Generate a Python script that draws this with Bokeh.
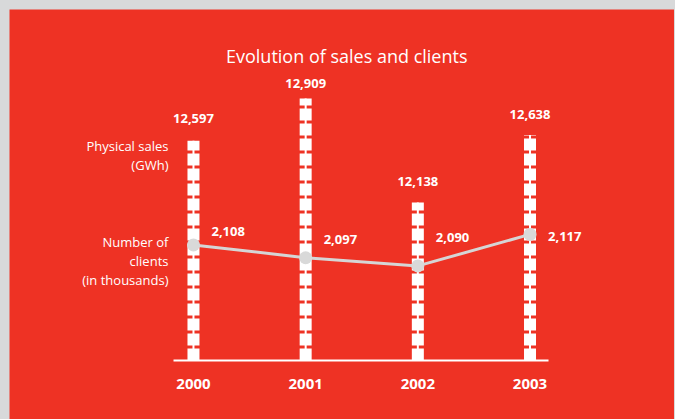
from bokeh.plotting import figure
from bokeh.models import ColumnDataSource, Range1d, LabelSet, Label
from bokeh.embed import file_html
from bokeh.resources import INLINE
from bokeh.core.properties import value

# ---- data ----
years = [2000, 2001, 2002, 2003]
year_labels = ["2000", "2001", "2002", "2003"]
sales = [12597, 12909, 12138, 12638]          # physical sales (GWh)
clients = [2108, 2097, 2090, 2117]            # number of clients (thousands)
title_text = "Evolution of sales and clients"
sales_caption = "Physical sales\n(GWh)"
clients_caption = "Number of\nclients\n(in thousands)"

# ---- styling / placement ----
RED = "#ee3224"
FONT_NAME = "Open Sans"
FONT = value(FONT_NAME)
client_label_dy = [13, 18, 28, -2]
sales_label_dy = [22, 15, 21, 21]

sales_floor = 10967                       # value at the baseline of the bars
sales_range = Range1d(10530, 13569)
clients_range = Range1d(1958.4, 2309.7)
x_range = Range1d(1998.36, 2004.288)
axis_pad = (0.178, 0.165)                 # baseline overhang, in years

src = ColumnDataSource(dict(
    x=years,
    sales=sales,
    base=[sales_floor] * len(years),
    clients=clients,
    sales_txt=[f"{v:,}" for v in sales],
    clients_txt=[f"{v:,}" for v in clients],
    year_txt=year_labels,
    dy=client_label_dy,
    sdy=sales_label_dy,
))

p = figure(width=665, height=410, x_range=x_range, y_range=sales_range,
           output_backend="svg", toolbar_location=None,
           x_axis_location=None, y_axis_location=None,
           min_border=0, background_fill_color=RED,
           border_fill_color=RED, outline_line_color=None)
p.extra_y_ranges = {"clients": clients_range}
p.grid.visible = False

# baseline
p.segment(x0=[years[0] - axis_pad[0]], y0=[sales_floor],
          x1=[years[-1] + axis_pad[1]], y1=[sales_floor],
          line_color="white", line_width=2)

# bars: ladder look (thick dashed segment + thin solid spine)
p.segment(x0="x", y0="base", x1="x", y1="sales", source=src,
          line_color="white", line_width=12, line_dash="12 3", line_cap="butt")
p.segment(x0="x", y0="base", x1="x", y1="sales", source=src,
          line_color="white", line_width=2)

# clients line
p.line("x", "clients", source=src, y_range_name="clients",
       line_color="#d5d5d5", line_width=3)
p.scatter("x", "clients", source=src, y_range_name="clients", size=13,
          fill_color="#d9d9d9", line_color=None)

p.add_layout(LabelSet(x="x", y="sales", text="sales_txt", source=src,
                      y_offset="sdy", text_align="center", text_baseline="middle",
                      text_color="white", text_font=FONT,
                      text_font_style="bold", text_font_size="13px"))
p.add_layout(LabelSet(x="x", y="clients", text="clients_txt", source=src,
                      y_range_name="clients", x_offset=18, y_offset="dy",
                      text_align="left", text_baseline="middle",
                      text_color="white", text_font=FONT,
                      text_font_style="bold", text_font_size="13px"))
p.add_layout(LabelSet(x="x", y="base", text="year_txt", source=src,
                      y_offset=-23, text_align="center", text_baseline="middle",
                      text_color="white", text_font=FONT,
                      text_font_style="bold", text_font_size="15px"))

p.add_layout(Label(x=years[0], y=sales[0], x_offset=-25, y_offset=-15,
                   text=sales_caption, text_align="right",
                   text_baseline="middle", text_line_height=1.05,
                   text_color="white", text_font=FONT_NAME,
                   text_font_size="13px"))
p.add_layout(Label(x=years[0], y=clients[0], y_range_name="clients",
                   x_offset=-25, y_offset=-16,
                   text=clients_caption, text_align="right",
                   text_baseline="middle", text_line_height=1.05,
                   text_color="white", text_font=FONT_NAME,
                   text_font_size="13px"))

p.add_layout(Label(x=sum(years) / len(years), y=sales_range.end,
                   x_offset=-15, y_offset=-46, text=title_text,
                   text_align="center", text_baseline="middle",
                   text_color="white", text_font=FONT_NAME,
                   text_font_size="18px"))

html = file_html(p, INLINE)
html = html.replace(
    "</head>",
    "<style>html,body{margin:0;padding:0;background:#d8d9da;}"
    "body{padding:9px 0 0 9px;}</style></head>", 1)
open("out.html", "w").write(html)
